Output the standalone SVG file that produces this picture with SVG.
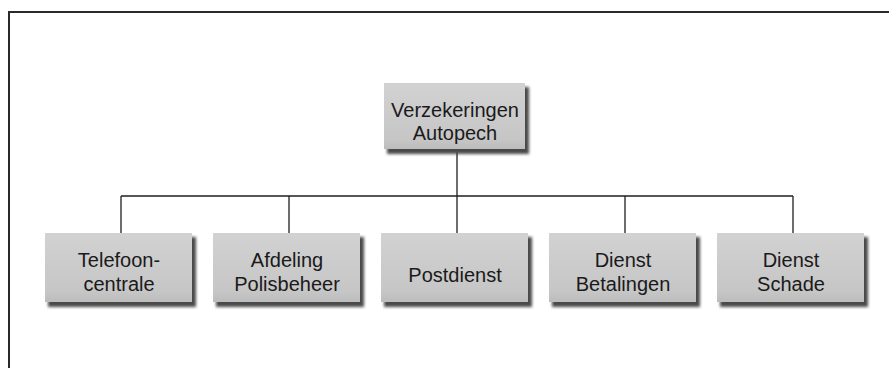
<svg xmlns="http://www.w3.org/2000/svg" width="889" height="368" viewBox="0 0 889 368">
  <defs>
    <style>
      .frame { fill: none; stroke: #2a2a2a; stroke-width: 2; }
      .link { fill: none; stroke: #1e1e1e; stroke-width: 1.3; }
      .shadow { fill: #4a4a4a; filter: url(#soft); }
      .body { fill: url(#face); }
      .label { font-family: "Liberation Sans", Arial, sans-serif; font-size: 20px; fill: #1a1a1a; text-anchor: middle; }
    </style>
    <filter id="soft" x="-10%" y="-20%" width="120%" height="140%">
      <feGaussianBlur stdDeviation="1.6"/>
    </filter>
    <linearGradient id="face" x1="0" y1="0" x2="0" y2="1">
      <stop offset="0" stop-color="#d2d2d2"/>
      <stop offset="0.85" stop-color="#c6c6c6"/>
      <stop offset="1" stop-color="#bcbcbc"/>
    </linearGradient>
  </defs>

  <!-- outer frame (left and top edges visible) -->
  <polyline class="frame" points="9,368 9,12 889,12"/>

  <!-- connectors -->
  <g id="connectors">
    <line class="link" x1="457" y1="152" x2="457" y2="196"/>
    <line class="link" x1="121" y1="196" x2="793" y2="196"/>
    <line class="link" x1="121" y1="196" x2="121" y2="233"/>
    <line class="link" x1="289" y1="196" x2="289" y2="233"/>
    <line class="link" x1="457" y1="196" x2="457" y2="233"/>
    <line class="link" x1="625" y1="196" x2="625" y2="233"/>
    <line class="link" x1="793" y1="196" x2="793" y2="233"/>
  </g>

  <g id="verzekeringen-autopech">
    <rect class="shadow" x="387" y="87" width="142" height="67"/>
    <rect class="body" x="384" y="83" width="141" height="66"/>
    <text class="label" x="455" y="117">Verzekeringen</text>
    <text class="label" x="455" y="140">Autopech</text>
  </g>

  <g id="telefooncentrale">
    <rect class="shadow" x="48" y="237" width="148" height="70"/>
    <rect class="body" x="45" y="233" width="147" height="69"/>
    <text class="label" x="119" y="267">Telefoon-</text>
    <text class="label" x="119" y="291">centrale</text>
  </g>

  <g id="afdeling-polisbeheer">
    <rect class="shadow" x="216" y="237" width="148" height="70"/>
    <rect class="body" x="213" y="233" width="147" height="69"/>
    <text class="label" x="287" y="267">Afdeling</text>
    <text class="label" x="287" y="291">Polisbeheer</text>
  </g>

  <g id="postdienst">
    <rect class="shadow" x="384" y="237" width="148" height="70"/>
    <rect class="body" x="381" y="233" width="147" height="69"/>
    <text class="label" x="455" y="282">Postdienst</text>
  </g>

  <g id="dienst-betalingen">
    <rect class="shadow" x="552" y="237" width="148" height="70"/>
    <rect class="body" x="549" y="233" width="147" height="69"/>
    <text class="label" x="623" y="267">Dienst</text>
    <text class="label" x="623" y="291">Betalingen</text>
  </g>

  <g id="dienst-schade">
    <rect class="shadow" x="720" y="237" width="148" height="70"/>
    <rect class="body" x="717" y="233" width="147" height="69"/>
    <text class="label" x="791" y="267">Dienst</text>
    <text class="label" x="791" y="291">Schade</text>
  </g>
</svg>
